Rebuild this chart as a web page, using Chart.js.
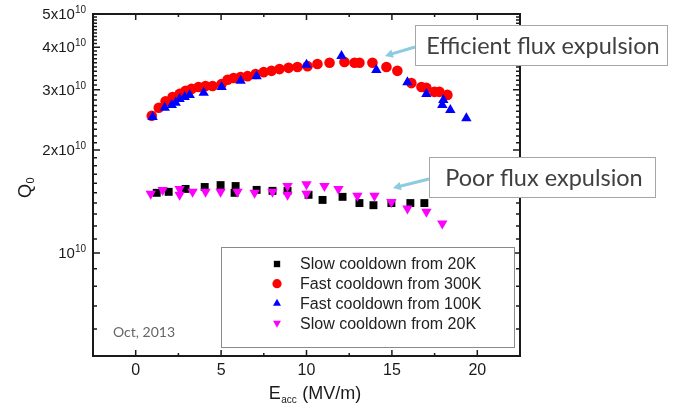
<!DOCTYPE html>
<html>
<head>
<meta charset="utf-8">
<script src="https://cdn.jsdelivr.net/npm/chart.js@4.4.0/dist/chart.umd.min.js"></script>
<style>
  html, body { margin: 0; padding: 0; background: #fff; }
  #wrap { width: 673px; height: 410px; }
</style>
</head>
<body>
<div id="wrap"><canvas id="qChart" width="673" height="410"></canvas></div>
<script>
// Q0 (in units of 1e10) against accelerating field Eacc (MV/m)
const slowCoolE = [1.23, 1.93, 2.92, 4.04, 4.97, 5.85, 5.79, 7.08, 8.01, 8.89, 10.12, 10.94, 12.11, 13.10, 13.92, 14.97, 16.08, 16.90];
const slowCoolQ = [1.50, 1.51, 1.54, 1.56, 1.58, 1.57, 1.50, 1.53, 1.52, 1.52, 1.48, 1.43, 1.46, 1.40, 1.38, 1.40, 1.40, 1.40];

const fast300E = [0.94, 1.35, 1.75, 2.16, 2.57, 2.92, 3.27, 3.68, 4.09, 4.50, 5.03, 5.38, 5.73, 6.14, 6.55, 7.02, 7.49, 7.95, 8.42, 8.95, 9.47, 10.06, 10.64, 11.35, 12.22, 12.81, 13.10, 13.86, 14.68, 15.32, 16.14, 16.73, 17.02, 17.49, 17.78, 18.25];
const fast300Q = [2.52, 2.66, 2.78, 2.86, 2.92, 2.98, 3.02, 3.06, 3.08, 3.08, 3.12, 3.21, 3.25, 3.27, 3.29, 3.34, 3.38, 3.41, 3.45, 3.48, 3.50, 3.52, 3.57, 3.60, 3.62, 3.60, 3.60, 3.60, 3.50, 3.41, 3.14, 3.06, 3.04, 2.96, 2.96, 2.90];

const fast100E = [0.99, 1.70, 2.11, 2.34, 2.57, 2.87, 3.16, 3.98, 5.03, 6.14, 7.08, 10.00, 12.05, 14.09, 15.91, 17.02, 18.01, 17.95, 18.42, 19.36];
const fast100Q = [2.50, 2.66, 2.71, 2.75, 2.82, 2.86, 2.90, 2.94, 3.06, 3.19, 3.29, 3.55, 3.77, 3.43, 3.16, 2.92, 2.80, 2.71, 2.62, 2.48];

const slowCool2E = [0.88, 1.58, 2.57, 2.57, 3.33, 4.09, 4.97, 5.96, 6.96, 8.01, 8.89, 8.89, 10.00, 10.00, 11.05, 11.87, 12.98, 13.98, 14.97, 15.91, 17.02, 17.95];
const slowCool2Q = [1.49, 1.53, 1.54, 1.48, 1.51, 1.51, 1.51, 1.51, 1.50, 1.51, 1.57, 1.48, 1.59, 1.49, 1.57, 1.54, 1.47, 1.47, 1.41, 1.35, 1.32, 1.22];

const seriesLabels = ["Slow cooldown from 20K", "Fast cooldown from 300K", "Fast cooldown from 100K", "Slow cooldown from 20K"];

// axis ticks
const xMajorTicks = [0, 5, 10, 15, 20];
const xMinorTicks = [-2.5, 2.5, 7.5, 12.5, 17.5, 22.5];
const yMajorTicks = [1, 2, 3, 4, 5];
const yTickMantissa = ["", "2x", "3x", "4x", "5x"];
const yMinorTicks = [];
for (let v = 6; v < 50; v++) {
  if (v % 10 !== 0) yMinorTicks.push(v / 10);
}

const ARIAL = "'Liberation Sans', Arial, sans-serif";
const CALIBRI = "Lato, 'Open Sans', sans-serif";

function toPoints(xs, ys) {
  return xs.map((x, i) => ({ x: x, y: ys[i] }));
}

const datasets = [
  { label: seriesLabels[0], data: toPoints(slowCoolE, slowCoolQ), pointStyle: "rect", pointRadius: 5.6, backgroundColor: "#000000", borderColor: "#000000", borderWidth: 0, order: 4 },
  { label: seriesLabels[1], data: toPoints(fast300E, fast300Q), pointStyle: "circle", pointRadius: 5.3, backgroundColor: "#ff0000", borderColor: "#ff0000", borderWidth: 0, order: 3 },
  { label: seriesLabels[2], data: toPoints(fast100E, fast100Q), pointStyle: "triangle", pointRadius: 6, backgroundColor: "#0000ff", borderColor: "#0000ff", borderWidth: 0, order: 2 },
  { label: seriesLabels[3], data: toPoints(slowCool2E, slowCool2Q), pointStyle: "triangle", rotation: 180, pointRadius: 6, backgroundColor: "#ff00ff", borderColor: "#ff00ff", borderWidth: 0, order: 1 }
];

function drawMarker(ctx, style, rot, r, x, y) {
  ctx.beginPath();
  if (style === "circle") {
    ctx.arc(x, y, r, 0, Math.PI * 2);
  } else if (style === "rect") {
    const s = r * Math.SQRT1_2;
    ctx.rect(x - s, y - s, 2 * s, 2 * s);
  } else {
    let a = rot * Math.PI / 180;
    for (let k = 0; k < 3; k++) {
      const px = x + Math.sin(a) * r, py = y - Math.cos(a) * r;
      if (k === 0) ctx.moveTo(px, py); else ctx.lineTo(px, py);
      a += Math.PI * 2 / 3;
    }
    ctx.closePath();
  }
  ctx.fill();
}

function drawArrow(ctx, x0, y0, x1, y1) {
  const ang = Math.atan2(y1 - y0, x1 - x0);
  const head = 9;
  ctx.beginPath();
  ctx.moveTo(x0, y0);
  ctx.lineTo(x1 - Math.cos(ang) * head * 0.8, y1 - Math.sin(ang) * head * 0.8);
  ctx.stroke();
  ctx.beginPath();
  ctx.moveTo(x1, y1);
  ctx.lineTo(x1 - Math.cos(ang - 0.5) * head, y1 - Math.sin(ang - 0.5) * head);
  ctx.lineTo(x1 - Math.cos(ang + 0.5) * head, y1 - Math.sin(ang + 0.5) * head);
  ctx.closePath();
  ctx.fill();
}

// frame, inward ticks, labels, legend and callouts
const decorations = {
  id: "decorations",
  afterDraw(chart) {
    const ctx = chart.ctx;
    const a = chart.chartArea;
    const xs = chart.scales.x, ys = chart.scales.y;
    ctx.save();

    ctx.strokeStyle = "#1a1a1a";
    ctx.lineWidth = 2;
    ctx.strokeRect(a.left, a.top, a.right - a.left, a.bottom - a.top);

    ctx.lineWidth = 1.5;
    ctx.beginPath();
    xMajorTicks.forEach(v => {
      const p = xs.getPixelForValue(v);
      ctx.moveTo(p, a.bottom); ctx.lineTo(p, a.bottom - 6);
      ctx.moveTo(p, a.top); ctx.lineTo(p, a.top + 6);
    });
    xMinorTicks.forEach(v => {
      const p = xs.getPixelForValue(v);
      ctx.moveTo(p, a.bottom); ctx.lineTo(p, a.bottom - 3);
      ctx.moveTo(p, a.top); ctx.lineTo(p, a.top + 3);
    });
    yMajorTicks.forEach(v => {
      const p = ys.getPixelForValue(v);
      ctx.moveTo(a.left, p); ctx.lineTo(a.left + 7, p);
      ctx.moveTo(a.right, p); ctx.lineTo(a.right - 7, p);
    });
    yMinorTicks.forEach(v => {
      const p = ys.getPixelForValue(v);
      ctx.moveTo(a.left, p); ctx.lineTo(a.left + 4, p);
      ctx.moveTo(a.right, p); ctx.lineTo(a.right - 4, p);
    });
    ctx.stroke();

    // tick labels
    ctx.fillStyle = "#1a1a1a";
    ctx.font = "16px " + ARIAL;
    ctx.textAlign = "center";
    ctx.textBaseline = "middle";
    xMajorTicks.forEach(v => ctx.fillText(String(v), xs.getPixelForValue(v), a.bottom + 15));

    ctx.textBaseline = "alphabetic";
    ctx.textAlign = "right";
    yMajorTicks.forEach((v, i) => {
      const p = ys.getPixelForValue(v);
      const right = a.left - 7;
      ctx.font = "10px " + ARIAL;
      const supW = ctx.measureText("10").width;
      ctx.fillText("10", right, p - 1);
      ctx.font = "15px " + ARIAL;
      ctx.fillText(yTickMantissa[i] + "10", right - supW, p + 5);
    });

    // axis titles
    ctx.textAlign = "left";
    ctx.font = "18px " + ARIAL;
    const eW = ctx.measureText("E").width;
    const restW = ctx.measureText(" (MV/m)").width;
    ctx.font = "10px " + ARIAL;
    const subW = ctx.measureText("acc").width;
    let tx = (a.left + a.right) / 2 + 8 - (eW + subW + restW) / 2;
    const ty = 399;
    ctx.font = "18px " + ARIAL;
    ctx.fillText("E", tx, ty);
    ctx.font = "10px " + ARIAL;
    ctx.fillText("acc", tx + eW + 0.5, ty + 4);
    ctx.font = "18px " + ARIAL;
    ctx.fillText(" (MV/m)", tx + eW + subW + 1, ty);

    ctx.save();
    ctx.translate(31, 198);
    ctx.rotate(-Math.PI / 2);
    ctx.font = "18px " + ARIAL;
    ctx.fillText("Q", 0, 0);
    const qW = ctx.measureText("Q").width;
    ctx.font = "11px " + ARIAL;
    ctx.fillText("0", qW + 0.5, 3);
    ctx.restore();

    // date note
    ctx.fillStyle = "#666666";
    ctx.font = "14px " + CALIBRI;
    ctx.textBaseline = "middle";
    ctx.fillText("Oct, 2013", 113, 332);

    // legend
    const lg = { left: 221, top: 247, right: 514, bottom: 347 };
    ctx.fillStyle = "#ffffff";
    ctx.fillRect(lg.left, lg.top, lg.right - lg.left, lg.bottom - lg.top);
    ctx.strokeStyle = "#8a8a8a";
    ctx.lineWidth = 1;
    ctx.strokeRect(lg.left + 0.5, lg.top + 0.5, lg.right - lg.left, lg.bottom - lg.top);
    ctx.font = "16px " + ARIAL;
    chart.data.datasets.forEach((ds, i) => {
      const rowY = 264 + i * 19.7;
      ctx.fillStyle = ds.backgroundColor;
      drawMarker(ctx, ds.pointStyle, ds.rotation || 0, ds.pointStyle === "rect" ? 4.5 : 4.6, 277, rowY);
      ctx.fillStyle = "#222222";
      ctx.fillText(ds.label, 300, rowY + 1);
    });

    // callouts
    const callouts = [
      { text: "Efficient flux expulsion", box: [415, 25, 667, 65], from: [415, 47], to: [385, 56] },
      { text: "Poor flux expulsion", box: [429, 157, 655, 197], from: [429, 179], to: [393, 188] }
    ];
    callouts.forEach(c => {
      ctx.strokeStyle = "#8ccbe0";
      ctx.fillStyle = "#8ccbe0";
      ctx.lineWidth = 3;
      drawArrow(ctx, c.from[0], c.from[1], c.to[0], c.to[1]);
      const [l, t, r, b] = c.box;
      ctx.fillStyle = "#ffffff";
      ctx.fillRect(l, t, r - l, b - t);
      ctx.strokeStyle = "#a6a6a6";
      ctx.lineWidth = 1;
      ctx.strokeRect(l + 0.5, t + 0.5, r - l, b - t);
      ctx.fillStyle = "#404040";
      ctx.font = "23.5px " + CALIBRI;
      ctx.textAlign = "center";
      ctx.textBaseline = "middle";
      ctx.fillText(c.text, (l + r) / 2 + 2, (t + b) / 2 + 1);
      ctx.textAlign = "left";
    });

    ctx.restore();
  }
};

new Chart(document.getElementById("qChart").getContext("2d"), {
  type: "scatter",
  data: { datasets: datasets },
  options: {
    responsive: false,
    animation: false,
    devicePixelRatio: 1,
    layout: { padding: { left: 93, top: 14, right: 153, bottom: 54 } },
    plugins: {
      legend: { display: false },
      tooltip: { enabled: false }
    },
    scales: {
      x: { type: "linear", min: -2.5, max: 22.5, display: false },
      y: { type: "logarithmic", min: 0.5, max: 5, display: false }
    }
  },
  plugins: [decorations]
});
</script>
</body>
</html>
